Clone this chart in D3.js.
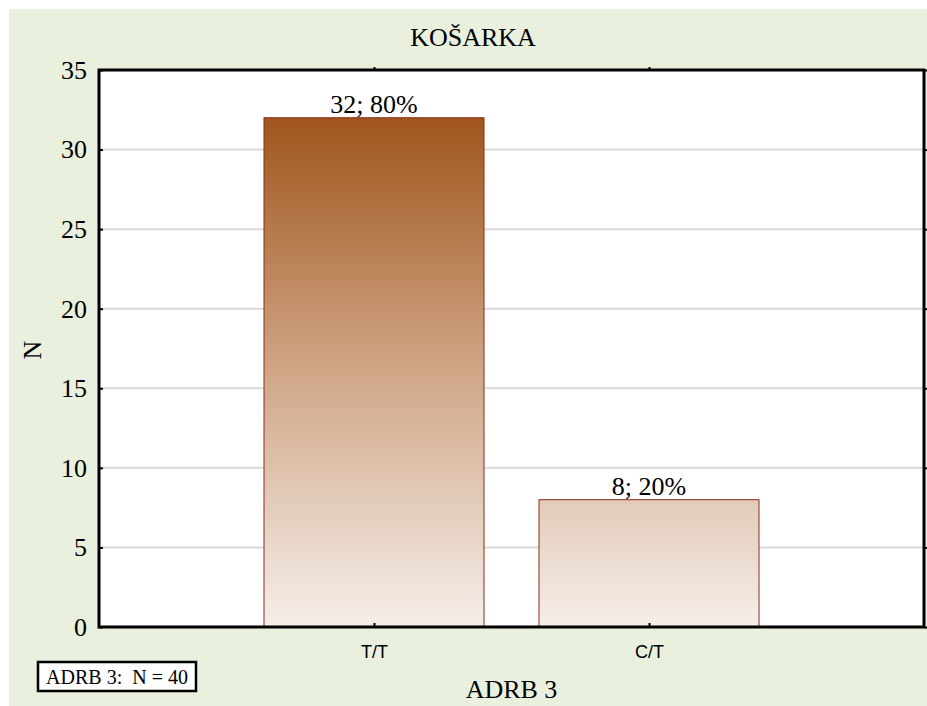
<!DOCTYPE html>
<html>
<head>
<meta charset="utf-8">
<script src="https://cdn.jsdelivr.net/npm/d3@7"></script>
<style>
  body { margin: 0; background: #fff; }
  svg { display: block; }
</style>
</head>
<body>
<svg width="927" height="706"></svg>
<script>
// data
var categories = ['T/T', 'C/T'];
var counts = [32, 8];
var percents = ['80%', '20%'];
var yTicks = [0, 5, 10, 15, 20, 25, 30, 35];
var totalN = 40;

var svg = d3.select('svg');

// plot box (window.top is read-only, so no "top" here)
var plotL = 99, plotR = 924, plotT = 70, plotB = 627;
var serif = '"Liberation Serif", "Times New Roman", serif';
var sans = '"Liberation Sans", Arial, sans-serif';

var x = d3.scalePoint()
    .domain(categories)
    .range([plotL, plotR])
    .padding(1);

var y = d3.scaleLinear()
    .domain([0, 35])
    .range([plotB, plotT]);

var barW = x.step() * 0.8;

// background
svg.append('rect')
    .attr('x', 9).attr('y', 9)
    .attr('width', 918).attr('height', 697)
    .style('fill', '#e9f0de');

svg.append('rect')
    .attr('x', plotL).attr('y', plotT)
    .attr('width', plotR - plotL).attr('height', plotB - plotT)
    .style('fill', 'white');

// gradient in plot coordinates so the short bar picks up the lighter part
var grad = svg.append('defs').append('linearGradient')
    .attr('id', 'barfill')
    .attr('gradientUnits', 'userSpaceOnUse')
    .attr('x1', 0).attr('x2', 0)
    .attr('y1', y(32)).attr('y2', y(0));
grad.append('stop').attr('offset', 0).attr('stop-color', '#a0561c');
grad.append('stop').attr('offset', 0.5).attr('stop-color', '#d0a687');
grad.append('stop').attr('offset', 1).attr('stop-color', '#f5efea');

// grid
svg.selectAll('.grid')
    .data(yTicks.filter(function(d) { return d > 0 && d < 35; }))
    .enter().append('line')
    .attr('class', 'grid')
    .attr('x1', plotL).attr('x2', plotR)
    .attr('y1', function(d) { return y(d); })
    .attr('y2', function(d) { return y(d); })
    .style('stroke', '#d9d9d9')
    .style('stroke-width', 2);

// bars
svg.selectAll('.bar')
    .data(counts)
    .enter().append('rect')
    .attr('class', 'bar')
    .attr('x', function(d, i) { return x(categories[i]) - barW / 2; })
    .attr('y', function(d) { return y(d); })
    .attr('width', barW)
    .attr('height', function(d) { return y(0) - y(d); })
    .style('fill', 'url(#barfill)')
    .style('stroke', '#8b2c1a')
    .style('stroke-width', 1);

svg.selectAll('.barlabel')
    .data(counts)
    .enter().append('text')
    .attr('class', 'barlabel')
    .attr('x', function(d, i) { return x(categories[i]); })
    .attr('y', function(d) { return y(d) - 5; })
    .attr('text-anchor', 'middle')
    .style('font-family', serif)
    .style('font-size', '26px')
    .text(function(d, i) { return d + '; ' + percents[i]; });

// axes
var yAxisL = d3.axisLeft(y).tickValues(yTicks).tickSizeInner(-4).tickSizeOuter(0).tickPadding(12);
var yAxisR = d3.axisRight(y).tickValues(yTicks).tickSizeInner(3).tickSizeOuter(0).tickFormat('');
var xAxisB = d3.axisBottom(x).tickSizeInner(-4).tickSizeOuter(0).tickPadding(18);
var xAxisT = d3.axisTop(x).tickSizeInner(3).tickSizeOuter(0).tickFormat('');

var gl = svg.append('g').attr('transform', 'translate(' + plotL + ',0)').call(yAxisL);
gl.selectAll('text').style('font-family', serif).style('font-size', '26px').style('fill', '#000');

svg.append('g').attr('transform', 'translate(' + plotR + ',0)').call(yAxisR);

var gb = svg.append('g').attr('transform', 'translate(0,' + plotB + ')').call(xAxisB);
gb.selectAll('text').style('font-family', sans).style('font-size', '18px').style('fill', '#000');

svg.append('g').attr('transform', 'translate(0,' + plotT + ')').call(xAxisT);

svg.selectAll('.domain').remove();
svg.selectAll('.tick line').style('stroke', '#000').style('stroke-width', 2);

// frame
svg.append('rect')
    .attr('x', plotL).attr('y', plotT)
    .attr('width', plotR - plotL).attr('height', plotB - plotT)
    .style('fill', 'none')
    .style('stroke', '#000')
    .style('stroke-width', 3);

// titles
svg.append('text')
    .attr('x', 473).attr('y', 46)
    .attr('text-anchor', 'middle')
    .style('font-family', serif).style('font-size', '26px')
    .text('KOŠARKA');

svg.append('text')
    .attr('x', (plotL + plotR) / 2).attr('y', 698)
    .attr('text-anchor', 'middle')
    .style('font-family', serif).style('font-size', '26px')
    .text('ADRB 3');

svg.append('text')
    .attr('transform', 'translate(41,350) rotate(-90)')
    .attr('text-anchor', 'middle')
    .style('font-family', serif).style('font-size', '26px')
    .text('N');

// N box
svg.append('rect')
    .attr('x', 38).attr('y', 662)
    .attr('width', 158).attr('height', 29)
    .style('fill', 'white')
    .style('stroke', '#000')
    .style('stroke-width', 2.5);

svg.append('text')
    .attr('x', 117).attr('y', 684)
    .attr('text-anchor', 'middle')
    .style('font-family', serif).style('font-size', '20px')
    .style('white-space', 'pre')
    .text('ADRB 3:  N = ' + totalN);
</script>
</body>
</html>
